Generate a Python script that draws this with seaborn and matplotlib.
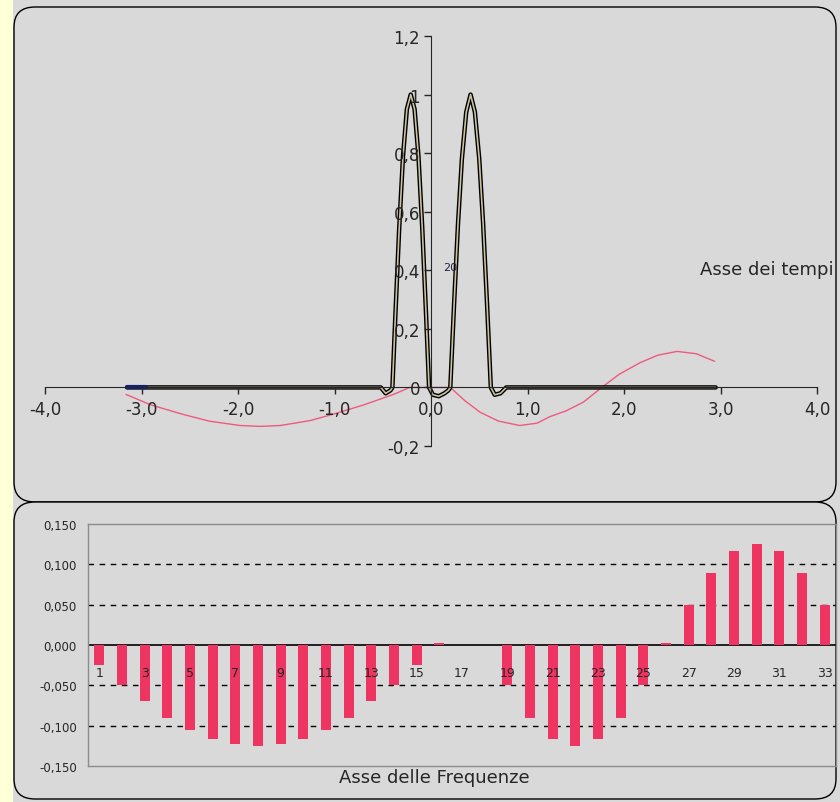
import numpy as np
import pandas as pd
import seaborn as sns
import matplotlib
matplotlib.use("Agg")
from matplotlib import pyplot as plt
from matplotlib.patches import FancyBboxPatch, Rectangle
from matplotlib.ticker import FuncFormatter, FixedLocator

sns.set_style("ticks")
plt.rcParams['font.family'] = ['DejaVu Sans']

# --- time domain (top) ---
pulse_t = [-3.15, -0.52, -0.47, -0.42, -0.40, -0.37, -0.33, -0.29, -0.25, -0.21,
           -0.17, -0.13, -0.09, -0.05, -0.02, 0.02, 0.08, 0.14, 0.18, 0.20,
           0.24, 0.28, 0.32, 0.365, 0.41, 0.455, 0.50, 0.54, 0.58, 0.62,
           0.66, 0.72, 0.78, 2.95]
pulse_v = [0.0, 0.0, -0.02, -0.01, 0.0, 0.24, 0.54, 0.79, 0.95, 1.0,
           0.95, 0.79, 0.54, 0.24, 0.0, -0.025, -0.03, -0.02, -0.01, 0.0,
           0.29, 0.56, 0.78, 0.94, 1.0, 0.94, 0.78, 0.56, 0.29, 0.0,
           -0.025, -0.02, 0.0, 0.0]

envelope_t = [-3.16, -2.9, -2.57, -2.3, -1.98, -1.77, -1.56, -1.25, -1.02, -0.7,
              -0.39, -0.22, -0.05, 0.1, 0.2, 0.35, 0.51, 0.7, 0.92, 1.1,
              1.23, 1.4, 1.58, 1.77, 1.95, 2.17, 2.35, 2.55, 2.75, 2.94]
envelope_v = [-0.024, -0.06, -0.092, -0.115, -0.13, -0.133, -0.13, -0.113, -0.092, -0.06,
              -0.024, 0.0, 0.0, 0.0, 0.0, -0.045, -0.085, -0.115, -0.13, -0.122,
              -0.10, -0.08, -0.05, 0.0, 0.045, 0.085, 0.11, 0.123, 0.115, 0.089]

marker_t = [-3.15, -2.95]
marker_v = [0.0, 0.0]

x_ticks = [-4, -3, -2, -1, 0, 1, 2, 3, 4]
y_ticks = [-0.2, 0, 0.2, 0.4, 0.6, 0.8, 1.0, 1.2]

# --- frequency domain (bottom) ---
harmonics = [str(i) for i in range(1, 34)]
coeffs = [-0.025, -0.050, -0.069, -0.090, -0.105, -0.117, -0.123, -0.125, -0.123, -0.117,
          -0.105, -0.090, -0.069, -0.050, -0.025, 0.002, 0.0, 0.0, -0.050, -0.090,
          -0.117, -0.125, -0.117, -0.090, -0.050, 0.002, 0.050, 0.089, 0.117, 0.125,
          0.117, 0.089, 0.050]
freq_ticks = [-0.15, -0.10, -0.05, 0.0, 0.05, 0.10, 0.15]

W, H = 840, 803
gray = "#D9D9D9"
fig = plt.figure(figsize=(8.4, 8.03), dpi=100, facecolor=gray)

# panels
fig.add_artist(Rectangle((0, 0), 13 / W, 1, transform=fig.transFigure,
                         facecolor="#FFFFD8", edgecolor="none", zorder=-3))
for y0, y1 in [(8, 503), (503, 800)]:
    fig.add_artist(FancyBboxPatch((14 / W, 1 - y1 / H), 822 / W, (y1 - y0) / H,
                                  boxstyle="round,pad=0,rounding_size=0.025",
                                  transform=fig.transFigure, facecolor=gray,
                                  edgecolor="black", lw=1.0, zorder=-2))

# top chart
ax = fig.add_axes([45 / W, 1 - 447 / H, 772 / W, 410 / H])
ax.set_facecolor("none")
sns.lineplot(x=envelope_t, y=envelope_v, sort=False, estimator=None,
             color="#EE5A7E", lw=1.0, ax=ax)
sns.lineplot(x=pulse_t, y=pulse_v, sort=False, estimator=None,
             color="black", lw=3.2, ax=ax)
sns.lineplot(x=pulse_t, y=pulse_v, sort=False, estimator=None,
             color="#C9C29C", lw=1.2, ax=ax)
sns.lineplot(x=marker_t, y=marker_v, sort=False, estimator=None,
             color="#10207A", lw=3.0, ax=ax)
ax.set_xlim(-4, 4)
ax.set_ylim(-0.2, 1.2)
for s in ["top", "right"]:
    ax.spines[s].set_visible(False)
ax.spines["left"].set_position(("data", 0))
ax.spines["bottom"].set_position(("data", 0))
ax.xaxis.set_major_locator(FixedLocator(x_ticks))
ax.yaxis.set_major_locator(FixedLocator(y_ticks))
ax.xaxis.set_major_formatter(FuncFormatter(lambda v, p: f"{v:.1f}".replace(".", ",")))
ax.yaxis.set_major_formatter(FuncFormatter(
    lambda v, p: "0" if abs(v) < 1e-9 else ("1" if abs(v - 1) < 1e-9 else f"{v:.1f}".replace(".", ","))))
ax.set_axisbelow(False)
ax.tick_params(axis="both", direction="out", length=5, width=1, labelsize=12, pad=3)
ax.tick_params(axis="x", pad=4)
ax.text(0.13, 0.41, "20", fontsize=8, color="#202040", ha="left", va="center")
fig.text(834 / W, 1 - 270 / H, "Asse dei tempi", fontsize=13, ha="right", va="center")

# bottom chart
bx = fig.add_axes([88 / W, 1 - 767 / H, 748 / W, 242 / H])
bx.set_facecolor("none")
for v in [-0.10, -0.05, 0.05, 0.10]:
    bx.axhline(v, color="black", lw=1.0, ls=(0, (4, 4)), zorder=0.5)
bx.axhline(0, color="black", lw=1.2, zorder=0.6)
sns.barplot(x=harmonics, y=coeffs, color="#EE3562", width=0.44,
            saturation=1, linewidth=0, ax=bx, zorder=1)
bx.set_axisbelow(False)
bx.set_ylim(-0.15, 0.15)
bx.set_xlim(-0.5, 32.5)
bx.yaxis.set_major_locator(FixedLocator(freq_ticks))
bx.yaxis.set_major_formatter(FuncFormatter(lambda v, p: f"{v:.3f}".replace(".", ",")))
bx.set_xticks(range(len(harmonics)))
bx.set_xticklabels([h if int(h) % 2 else "" for h in harmonics])
bx.tick_params(axis="x", length=0, labelsize=9, pad=-72)
bx.tick_params(axis="y", length=0, labelsize=8.5, pad=8)
for s in bx.spines.values():
    s.set_color("#8C8C8C")
    s.set_linewidth(1.0)
bx.set_xlabel("")
bx.set_ylabel("")
fig.text(434 / W, 1 - 778 / H, "Asse delle Frequenze", fontsize=13, ha="center", va="center")

fig.savefig("out.png", dpi=100, facecolor=gray)
